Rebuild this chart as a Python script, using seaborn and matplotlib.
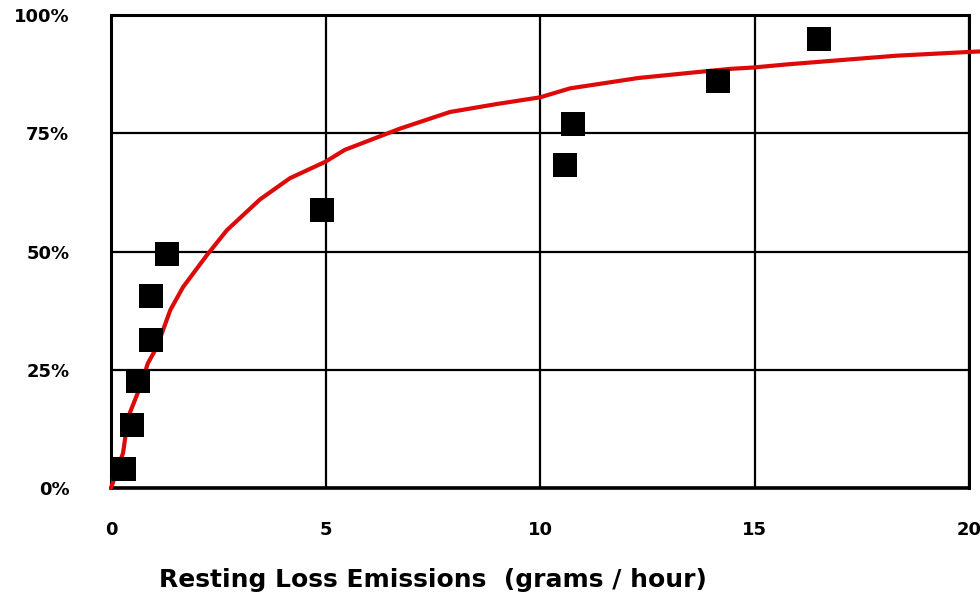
import pandas as pd
import numpy as np
import seaborn as sns
import matplotlib.pyplot as plt
from matplotlib.ticker import PercentFormatter

# ===================== data =====================
emis_x = [0.30, 0.49, 0.63, 0.93, 0.93, 1.31, 4.92, 10.58, 10.77, 14.15, 16.50]
cum_pct = [4.0, 13.3, 22.6, 31.3, 40.6, 49.5, 58.8, 68.3, 77.0, 86.0, 94.9]

fit_x = [0.0, 0.28, 0.40, 0.68, 0.86, 1.07, 1.38, 1.68, 2.24, 2.70, 3.47, 4.17,
         5.00, 5.45, 6.74, 7.90, 9.00, 10.00, 10.70, 12.30, 14.40, 14.96, 15.80,
         18.30, 20.00, 20.25]
fit_y = [0.0, 7.4, 15.0, 21.4, 26.4, 29.8, 37.6, 42.5, 49.3, 54.5, 61.0, 65.5,
         69.0, 71.5, 76.0, 79.5, 81.2, 82.6, 84.5, 86.7, 88.6, 88.9, 89.6,
         91.4, 92.2, 92.3]

points = pd.DataFrame({"emissions": emis_x, "pct": cum_pct})
curve = pd.DataFrame({"emissions": fit_x, "pct": fit_y})

# ===================== plot =====================
sns.set_style("white")
plt.rcParams["font.family"] = ["DejaVu Sans"]
plt.rcParams["text.color"] = "black"
plt.rcParams["xtick.color"] = "black"
plt.rcParams["ytick.color"] = "black"

fig = plt.figure(figsize=(9.8, 6.02), dpi=100)
ax = fig.add_axes([0.1133, 0.1894, 0.8755, 0.7856])

# fitted curve runs a little past the right edge, like the original
sns.lineplot(data=curve, x="emissions", y="pct", color="#DD0A0A",
             linewidth=3, ax=ax, zorder=3, clip_on=False)
sns.scatterplot(data=points, x="emissions", y="pct", marker="s", s=300,
                color="black", edgecolor="none", ax=ax, zorder=4, clip_on=False)

ax.set_xlim(0, 20)
ax.set_ylim(0, 100)
ax.set_xticks([0, 5, 10, 15, 20])
ax.set_yticks([0, 25, 50, 75, 100])
ax.yaxis.set_major_formatter(PercentFormatter(decimals=0))

ax.grid(True, color="black", linewidth=1.6)
ax.set_axisbelow(True)
for side in ["left", "bottom", "right", "top"]:
    ax.spines[side].set_visible(True)
    ax.spines[side].set_color("black")
    ax.spines[side].set_linewidth(2.2)
ax.spines["bottom"].set_linewidth(2.6)

ax.tick_params(axis="x", length=0, pad=24, labelsize=13, labelcolor="black")
ax.tick_params(axis="y", length=6, width=1.6, color="black", pad=24,
               labelsize=13, labelcolor="black")
for lab in ax.get_xticklabels() + ax.get_yticklabels():
    lab.set_fontweight("bold")

ax.set_ylabel("")
ax.set_xlabel("Resting Loss Emissions  (grams / hour)", fontsize=18,
              fontweight="bold", color="black")
ax.xaxis.set_label_coords(0.375, -0.17)

plt.savefig("out.png", dpi=100)
plt.close()
